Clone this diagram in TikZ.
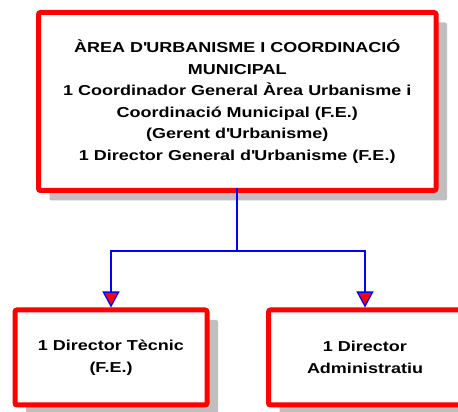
\documentclass[tikz,border=0pt]{standalone}
\usepackage{fontspec}
\setmainfont{Liberation Sans}[FakeStretch=1.25]
\usetikzlibrary{arrows.meta,shadows}
\newcommand{\apos}{\textquotesingle}

\begin{document}
\begin{tikzpicture}[x=1pt,y=1pt,
	unitbox/.style={draw=red, line width=5pt, fill=white, rounded corners=2pt,
		align=center, inner sep=0pt,
		font=\fontsize{14.4}{21.5}\selectfont\bfseries,
		drop shadow={shadow xshift=11pt, shadow yshift=-10pt, fill=black!25, opacity=1}},
	link/.style={draw=blue, line width=2pt, -{Triangle[width=17pt,length=16pt,line width=1.3pt,fill=red]}}]
	\useasboundingbox (0,0) rectangle (458,412);
	%\draw[help lines] (0,0) grid[step=50] (458,412);
	\node[unitbox, minimum width=397.5, minimum height=178] (area) at (237.25,310.5)
		{\`AREA D\apos URBANISME I COORDINACI\'O\\ MUNICIPAL\\
		 1 Coordinador General \`Area Urbanisme i\\ Coordinaci\'o Municipal (F.E.)\\
		 (Gerent d\apos Urbanisme)\\ 1 Director General d\apos Urbanisme (F.E.)};
	\node[unitbox, minimum width=192, minimum height=95] (dirtec) at (111,54.5)
		{1 Director T\`ecnic\\ (F.E.)};
	\node[unitbox, minimum width=193, minimum height=95] (diradm) at (365,54.5)
		{1 Director\\ Administratiu};
	\coordinate (fork) at (236.5,161);
	\coordinate (stem) at (236.5,224);
	\draw[link] (stem) -- (fork) -| (dirtec.north);
	\draw[link] (fork) -| (diradm.north);
\end{tikzpicture}
\end{document}
